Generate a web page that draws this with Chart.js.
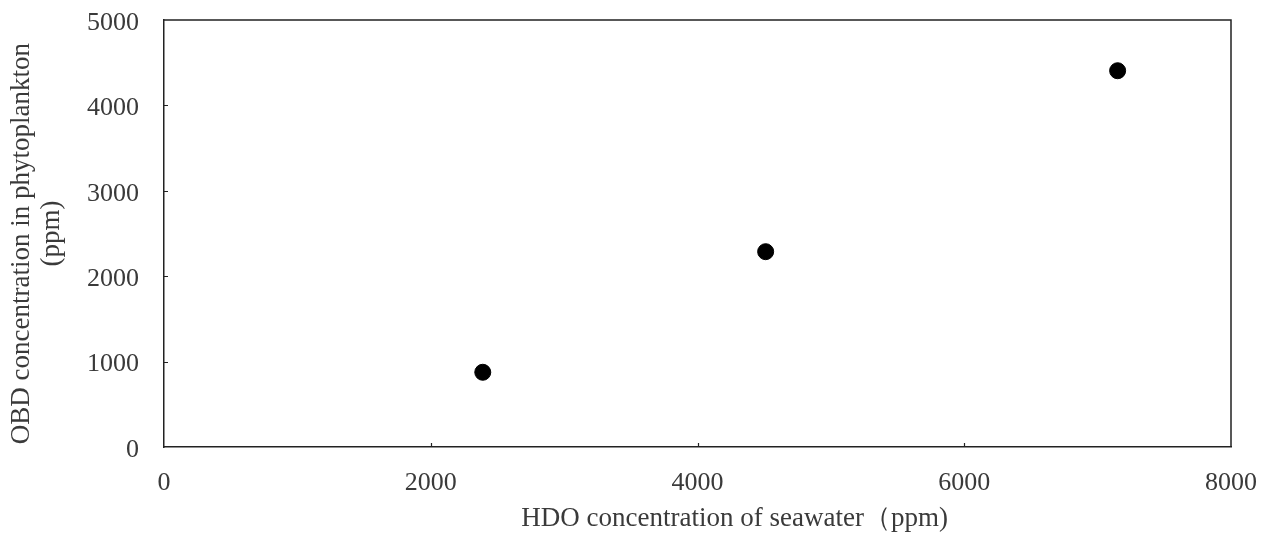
<!DOCTYPE html>
<html><head><meta charset="utf-8">
<script src="https://cdn.jsdelivr.net/npm/chart.js@4"></script>
<style>html,body{margin:0;padding:0;background:#fff}#wrap{width:1271px;height:540px}</style>
</head><body><div id="wrap"><canvas id="c" width="1271" height="540"></canvas></div>
<script>
const hdoSeawater = [2390, 4511, 7150];
const obdPhytoplankton = [875, 2287, 4406];
const xTickValues = [0, 2000, 4000, 6000, 8000];
const yTickValues = [0, 1000, 2000, 3000, 4000, 5000];
const xTitle = '\u00a0'.repeat(11) + 'HDO concentration of seawater（ppm)';
const yTitle = ['OBD concentration in phytoplankton\u00a0\u00a0\u00a0', '(ppm)'];

const FONT = "'Liberation Serif', 'Times New Roman', serif";
const TXT = '#3a3a3a';
const LINE = '#222';

const frame = {
  id: 'frame',
  afterDatasetsDraw(chart) {
    const {ctx, chartArea: a, scales: {x, y}} = chart;
    ctx.save();
    ctx.strokeStyle = LINE; ctx.lineWidth = 1.5;
    ctx.beginPath();
    ctx.moveTo(a.left, a.top); ctx.lineTo(a.right, a.top); ctx.lineTo(a.right, a.bottom);
    ctx.stroke();
    ctx.lineWidth = 1.2;
    ctx.beginPath();
    xTickValues.slice(1, -1).forEach(v => { const px = Math.round(x.getPixelForValue(v)) + 0.5; ctx.moveTo(px, a.bottom); ctx.lineTo(px, a.bottom - 4); });
    yTickValues.slice(1, -1).forEach(v => { const py = Math.round(y.getPixelForValue(v)) + 0.5; ctx.moveTo(a.left, py); ctx.lineTo(a.left + 4, py); });
    ctx.stroke();
    ctx.restore();
  }
};

new Chart(document.getElementById('c'), {
  type: 'scatter',
  data: { datasets: [{
    data: hdoSeawater.map((v, i) => ({x: v, y: obdPhytoplankton[i]})),
    backgroundColor: '#000', borderColor: '#000', pointRadius: 8, pointHoverRadius: 8
  }]},
  options: {
    responsive: false, animation: false, devicePixelRatio: 1,
    layout: { padding: { left: 0, right: 40, top: 20, bottom: 0 } },
    plugins: { legend: { display: false }, tooltip: { enabled: false } },
    scales: {
      x: {
        type: 'linear', min: 0, max: 8000,
        afterBuildTicks: s => { s.ticks = xTickValues.map(v => ({value: v})); },
        afterFit: s => { s.height = 93; s.paddingLeft = 0; s.paddingRight = 0; },
        grid: { display: false, drawTicks: false },
        border: { display: true, color: LINE, width: 1.5 },
        ticks: { color: TXT, font: { family: FONT, size: 26 }, padding: 21, maxRotation: 0, autoSkip: false, callback: v => String(v) },
        title: { display: true, text: xTitle, color: TXT, font: { family: FONT, size: 27 }, padding: { top: 0, bottom: 5 } }
      },
      y: {
        type: 'linear', min: 0, max: 5000,
        afterBuildTicks: s => { s.ticks = yTickValues.map(v => ({value: v})); },
        afterFit: s => { s.width = 164; s.paddingTop = 0; s.paddingBottom = 0; },
        grid: { display: false, drawTicks: false },
        border: { display: true, color: LINE, width: 1.5 },
        ticks: { color: TXT, font: { family: FONT, size: 26 }, padding: 25, labelOffset: 3, autoSkip: false, callback: v => String(v) },
        title: { display: true, text: yTitle, color: TXT, font: { family: FONT, size: 27, lineHeight: 1.1 }, padding: { top: 7, bottom: 0 } }
      }
    }
  },
  plugins: [frame]
});
</script></body></html>
